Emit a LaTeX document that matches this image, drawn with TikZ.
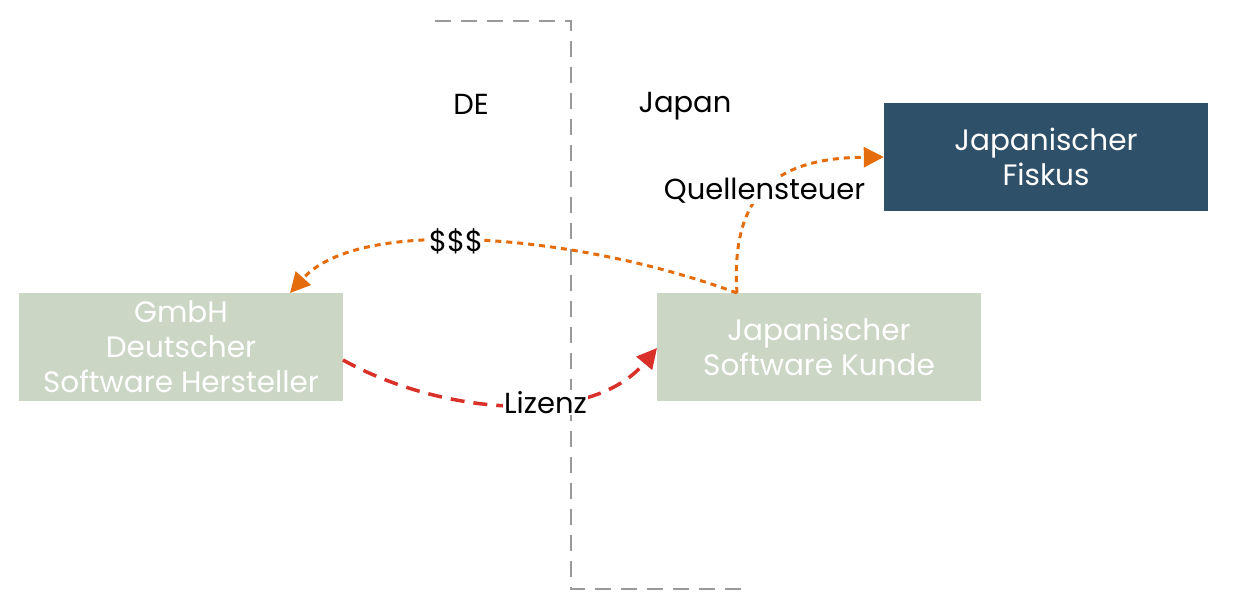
\documentclass[tikz,border=0pt]{standalone}
\usepackage{fontspec}
\setmainfont{Poppins}
\usetikzlibrary{arrows.meta}
\definecolor{sage}{HTML}{CCD6C4}
\definecolor{navy}{HTML}{2E5069}
\definecolor{orng}{HTML}{E46C0A}
\definecolor{redd}{HTML}{D9302A}
\definecolor{grayl}{HTML}{999999}
\tikzset{
  box/.style={minimum width=324pt, minimum height=108pt, align=center, text=white, font=\fontsize{29.5}{35}\selectfont, inner sep=0pt},
  lbl/.style={font=\fontsize{29}{32}\selectfont, text=black, inner sep=2pt},
  orarrow/.style={orng, line width=3pt, dash pattern=on 6pt off 5pt, -{Triangle[length=20pt,width=20pt]}},
  rdarrow/.style={redd, line width=3.5pt, dash pattern=on 14pt off 9pt, -{Triangle[length=20pt,width=20pt]}},
  border/.style={grayl, line width=2pt, dash pattern=on 16pt off 10pt}
}
\begin{document}
\begin{tikzpicture}[x=1pt,y=-1pt]
\useasboundingbox (0,0) rectangle (1233,615);
\node[box, fill=sage] (de) at (181,347) {GmbH\\Deutscher\\Software Hersteller};
\node[box, fill=sage] (jp) at (819,347) {Japanischer\\Software Kunde};
\node[box, fill=navy] (fk) at (1046,157) {Japanischer\\Fiskus};
\node[lbl] (delbl) at (471,104) {DE};
\node[lbl] (jplbl) at (685,106) {Japan};
\coordinate (b1) at (435,21);
\coordinate (b2) at (571,21);
\coordinate (b3) at (571,589);
\coordinate (b4) at (745,589);
\draw[border] (b1) -- (b2) -- (b3) -- (b4);
\coordinate (src) at (737,293);
\coordinate (dst) at (290,293);
\draw[orarrow] (src) .. controls (580,235) and (360,215) .. (dst)
  node[lbl, fill=white, pos=0.55, inner sep=1pt] (money) {\$\$\$};
\draw[orarrow] (src) .. controls (730,190) and (780,158) .. (fk.west)
  node[lbl, fill=white, pos=0.47, inner sep=1pt] (qst) {Quellensteuer};
\coordinate (ls) at (343,360);
\coordinate (le) at (657,348);
\draw[rdarrow] (ls) .. controls (440,414) and (590,428) .. (le)
  node[lbl, fill=white, pos=0.6, inner sep=1pt] (liz) {Lizenz};
\end{tikzpicture}
\end{document}
